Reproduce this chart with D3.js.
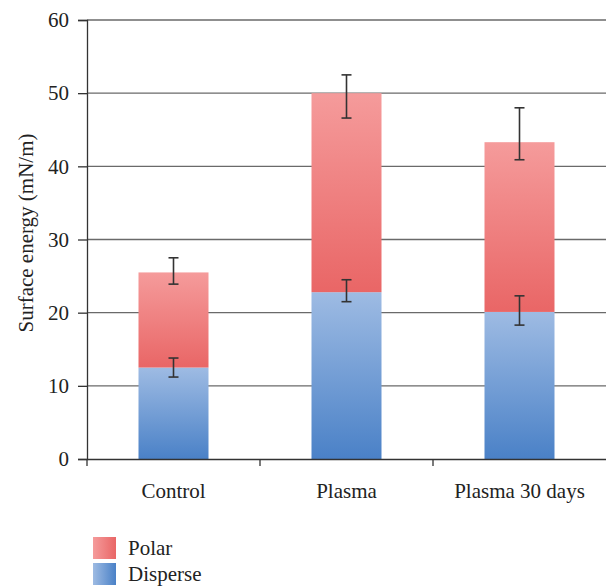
<!DOCTYPE html>
<html>
<head>
<meta charset="utf-8">
<script src="https://cdn.jsdelivr.net/npm/d3@7"></script>
<style>
  body { margin: 0; background: #fff; }
  svg text { font-family: "Liberation Serif", "DejaVu Serif", serif; fill: #222; }
</style>
</head>
<body>
<div id="chart"></div>
<script>
// chart values
const categories = ["Control", "Plasma", "Plasma 30 days"];
const disperse = [12.5, 22.8, 20.1];
const polar = [13.0, 27.2, 23.2];
// error bar ends (absolute values)
const disperseErrLow = [11.2, 21.5, 18.3];
const disperseErrHigh = [13.8, 24.5, 22.3];
const totalErrLow = [23.9, 46.6, 40.9];
const totalErrHigh = [27.5, 52.5, 48.0];
const yTicks = [0, 10, 20, 30, 40, 50, 60];
const legendItems = ["Polar", "Disperse"];

const W = 606, H = 587;
const margin = {top: 20, right: 0, bottom: 128, left: 87};
const serif = "'Liberation Serif', 'DejaVu Serif', serif";

const svg = d3.select("#chart").append("svg")
    .attr("width", W).attr("height", H);

// gradients for the bars and legend
const defs = svg.append("defs");
function grad(id, c1, c2, horizontal) {
    const g = defs.append("linearGradient").attr("id", id)
        .attr("x1", 0).attr("y1", 0)
        .attr("x2", horizontal ? 1 : 0).attr("y2", horizontal ? 0 : 1);
    g.append("stop").attr("offset", "0%").attr("stop-color", c1);
    g.append("stop").attr("offset", "100%").attr("stop-color", c2);
}
grad("polarV", "#f59b9b", "#e96666", false);
grad("disperseV", "#9ebbe3", "#4a81c7", false);
grad("polarH", "#f59b9b", "#e96666", true);
grad("disperseH", "#9ebbe3", "#4a81c7", true);

const x = d3.scaleBand()
    .domain(categories)
    .range([margin.left, W - margin.right]);

const y = d3.scaleLinear()
    .domain([0, 60])
    .range([H - margin.bottom, margin.top]);

// gridlines
svg.append("g").selectAll("line")
    .data(yTicks.slice(1))
    .enter().append("line")
    .attr("x1", margin.left).attr("x2", W - margin.right)
    .attr("y1", d => y(d)).attr("y2", d => y(d))
    .attr("stroke", "#6a6a6a")
    .attr("stroke-width", 1.3);

const barW = 70;

// disperse bars
svg.append("g").selectAll("rect")
    .data(categories)
    .enter().append("rect")
    .attr("x", d => x(d) + x.bandwidth() / 2 - barW / 2)
    .attr("y", (d, i) => y(disperse[i]))
    .attr("width", barW)
    .attr("height", (d, i) => y(0) - y(disperse[i]))
    .attr("fill", "url(#disperseV)");

// polar bars stacked on top
svg.append("g").selectAll("rect")
    .data(categories)
    .enter().append("rect")
    .attr("x", d => x(d) + x.bandwidth() / 2 - barW / 2)
    .attr("y", (d, i) => y(disperse[i] + polar[i]))
    .attr("width", barW)
    .attr("height", (d, i) => y(disperse[i]) - y(disperse[i] + polar[i]))
    .attr("fill", "url(#polarV)");

// error bars
function errorBars(lo, hi) {
    const g = svg.append("g")
        .attr("stroke", "#333")
        .attr("stroke-width", 1.6);
    categories.forEach((c, i) => {
        const cx = x(c) + x.bandwidth() / 2;
        g.append("line").attr("x1", cx).attr("x2", cx)
            .attr("y1", y(lo[i])).attr("y2", y(hi[i]));
        [lo[i], hi[i]].forEach(v => {
            g.append("line").attr("x1", cx - 5).attr("x2", cx + 5)
                .attr("y1", y(v)).attr("y2", y(v));
        });
    });
}
errorBars(disperseErrLow, disperseErrHigh);
errorBars(totalErrLow, totalErrHigh);

// y axis
const yAxis = svg.append("g")
    .attr("transform", `translate(${margin.left},0)`)
    .call(d3.axisLeft(y).tickValues(yTicks).tickSize(9).tickPadding(9));
yAxis.attr("font-family", serif).attr("font-size", 21);
yAxis.select(".domain").attr("stroke", "#333").attr("stroke-width", 1.3);
yAxis.selectAll(".tick line").attr("stroke", "#333").attr("stroke-width", 1.3);
yAxis.selectAll(".tick text").attr("fill", "#222");

// x axis
const xAxis = svg.append("g")
    .attr("transform", `translate(0,${y(0)})`)
    .call(d3.axisBottom(x).tickSize(0).tickPadding(24));
xAxis.attr("font-family", serif).attr("font-size", 21);
xAxis.select(".domain").attr("stroke", "#333").attr("stroke-width", 1.3);
xAxis.selectAll(".tick text").attr("fill", "#222");
// separator ticks between categories
svg.append("g").selectAll("line")
    .data(categories)
    .enter().append("line")
    .attr("x1", d => x(d)).attr("x2", d => x(d))
    .attr("y1", y(0)).attr("y2", y(0) + 7)
    .attr("stroke", "#333").attr("stroke-width", 1.3);

// y axis title
svg.append("text")
    .attr("transform", `translate(33,233) rotate(-90)`)
    .attr("text-anchor", "middle")
    .attr("font-family", serif)
    .attr("font-size", 21)
    .text("Surface energy (mN/m)");

// legend
const legend = svg.append("g").attr("transform", "translate(93,537)");
legendItems.forEach((name, i) => {
    legend.append("rect")
        .attr("x", 0).attr("y", i * 26)
        .attr("width", 23).attr("height", 22)
        .attr("fill", i === 0 ? "url(#polarH)" : "url(#disperseH)");
    legend.append("text")
        .attr("x", 35).attr("y", i * 26 + 18)
        .attr("font-family", serif)
        .attr("font-size", 21)
        .text(name);
});
</script>
</body>
</html>
